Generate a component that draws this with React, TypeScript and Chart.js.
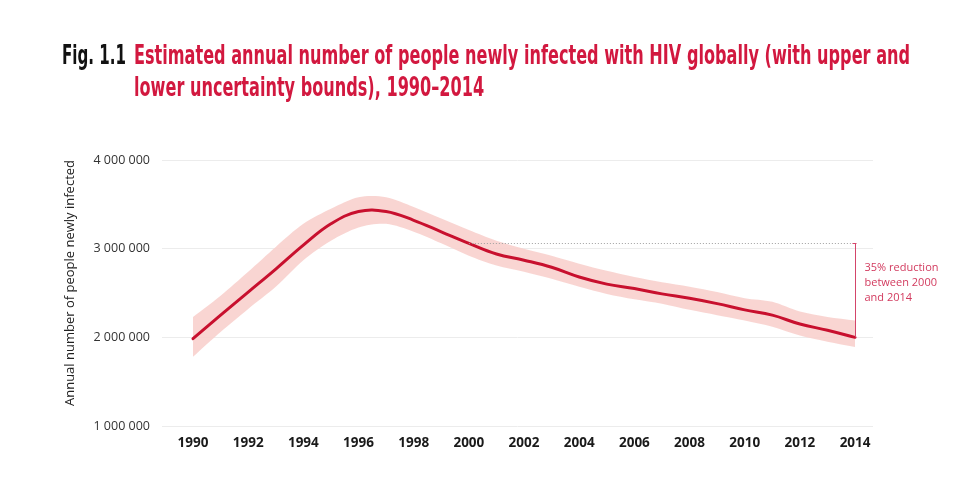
import React, { useEffect, useRef } from "react";
import { Chart, registerables } from "chart.js";

Chart.register(...registerables);

const years = [1990, 1991, 1992, 1993, 1994, 1995, 1996, 1997, 1998, 1999, 2000, 2001, 2002, 2003, 2004, 2005, 2006, 2007, 2008, 2009, 2010, 2011, 2012, 2013, 2014];
const estimate = [1985000, 2250000, 2510000, 2770000, 3040000, 3280000, 3420000, 3420000, 3320000, 3190000, 3060000, 2940000, 2870000, 2790000, 2680000, 2600000, 2550000, 2490000, 2440000, 2380000, 2310000, 2250000, 2150000, 2080000, 2000000];
const upperBound = [2230000, 2470000, 2740000, 3020000, 3280000, 3450000, 3580000, 3580000, 3470000, 3340000, 3210000, 3090000, 3000000, 2920000, 2830000, 2750000, 2680000, 2620000, 2570000, 2510000, 2440000, 2400000, 2290000, 2230000, 2190000];
const lowerBound = [1780000, 2060000, 2320000, 2570000, 2870000, 3090000, 3240000, 3280000, 3190000, 3060000, 2920000, 2810000, 2740000, 2660000, 2570000, 2490000, 2430000, 2380000, 2310000, 2250000, 2190000, 2120000, 2020000, 1950000, 1890000];
const xTickYears = [1990, 1992, 1994, 1996, 1998, 2000, 2002, 2004, 2006, 2008, 2010, 2012, 2014];
const yTicks = [1000000, 2000000, 3000000, 4000000];
const reductionFrom = 2000;
const reductionTo = 2014;
const reductionNote = ["35% reduction", "between 2000", "and 2014"];
const figLabel = "Fig. 1.1";
const titleLines = [
  "Estimated annual number of people newly infected with HIV globally (with upper and",
  "lower uncertainty bounds), 1990–2014",
];
const yAxisTitle = "Annual number of people newly infected";

const RED = "#c8102e";
const TITLE_RED = "#d2183f";
const BAND = "rgba(248, 208, 205, 0.9)";

const fmt = (v: number) => String(v).replace(/\B(?=(\d{3})+(?!\d))/g, " ");

const annotPlugin = {
  id: "annot",
  afterDatasetsDraw(chart: any) {
    const { ctx, scales } = chart;
    const x = scales.x;
    const y = scales.y;
    const vFrom = estimate[years.indexOf(reductionFrom)];
    const vTo = estimate[years.indexOf(reductionTo)];
    const y0 = Math.round(y.getPixelForValue(vFrom)) + 0.5;
    const y1 = y.getPixelForValue(vTo);
    const xa = x.getPixelForValue(reductionFrom);
    const xb = Math.round(x.getPixelForValue(reductionTo)) + 0.5;
    ctx.save();
    ctx.strokeStyle = "#a0a0a0";
    ctx.lineWidth = 1;
    ctx.setLineDash([1, 2]);
    ctx.beginPath();
    ctx.moveTo(xa, y0);
    ctx.lineTo(xb, y0);
    ctx.stroke();
    ctx.setLineDash([]);
    ctx.strokeStyle = "#d4456a";
    ctx.beginPath();
    ctx.moveTo(xb, y0);
    ctx.lineTo(xb, y1);
    ctx.moveTo(xb - 3, y0);
    ctx.lineTo(xb + 1, y0);
    ctx.stroke();
    ctx.fillStyle = "#d23a5e";
    ctx.font = "11px 'Open Sans', sans-serif";
    ctx.textAlign = "left";
    ctx.textBaseline = "alphabetic";
    reductionNote.forEach((t, i) => {
      ctx.fillText(t, xb + 9, y0 + 27 + i * 15);
    });
    ctx.restore();
  },
  afterDraw(chart: any) {
    const { ctx } = chart;
    ctx.save();
    ctx.fillStyle = "#222";
    ctx.font = "13px 'Open Sans', sans-serif";
    ctx.textAlign = "center";
    ctx.textBaseline = "middle";
    ctx.translate(70, 283);
    ctx.rotate(-Math.PI / 2);
    ctx.fillText(yAxisTitle, 0, 0);
    ctx.restore();

    ctx.save();
    ctx.font = "bold 27px 'Liberation Sans Narrow', 'DejaVu Sans Condensed', 'Liberation Sans', sans-serif";
    ctx.textAlign = "left";
    ctx.textBaseline = "alphabetic";
    const w1 = ctx.measureText(titleLines[0]).width;
    const sx = 776 / w1;
    ctx.fillStyle = TITLE_RED;
    titleLines.forEach((t, i) => {
      ctx.save();
      ctx.translate(134, 64 + i * 32);
      ctx.scale(sx, 1);
      ctx.fillText(t, 0, 0);
      ctx.restore();
    });
    const wf = ctx.measureText(figLabel).width;
    ctx.fillStyle = "#111";
    ctx.translate(62, 64);
    ctx.scale(64 / wf, 1);
    ctx.fillText(figLabel, 0, 0);
    ctx.restore();
  },
};

export default function App() {
  const ref = useRef<HTMLCanvasElement | null>(null);
  useEffect(() => {
    if (!ref.current) return;
    const pts = (arr: number[]) => years.map((yr, i) => ({ x: yr, y: arr[i] }));
    const chart = new Chart(ref.current, {
      type: "line",
      data: {
        datasets: [
          {
            data: pts(upperBound),
            borderWidth: 0,
            borderColor: "rgba(0,0,0,0)",
            backgroundColor: BAND,
            pointRadius: 0,
            fill: "+1",
            tension: 0.3,
            order: 2,
          },
          {
            data: pts(lowerBound),
            borderWidth: 0,
            borderColor: "rgba(0,0,0,0)",
            backgroundColor: BAND,
            pointRadius: 0,
            fill: false,
            tension: 0.3,
            order: 2,
          },
          {
            data: pts(estimate),
            borderWidth: 3,
            borderColor: RED,
            pointRadius: 0,
            fill: false,
            tension: 0.4,
            borderCapStyle: "round",
            borderJoinStyle: "round",
            order: 0,
          },
        ],
      },
      options: {
        responsive: false,
        animation: false,
        layout: { padding: { left: 62, top: 160, right: 85, bottom: 25 } },
        plugins: {
          legend: { display: false },
          tooltip: { enabled: false },
          title: { display: false },
          filler: { drawTime: "beforeDatasetsDraw" },
        },
        scales: {
          x: {
            type: "linear",
            min: 1988.876,
            max: 2014.65,
            grid: { display: false, drawTicks: false },
            border: { display: false },
            afterBuildTicks: (scale: any) => {
              scale.ticks = xTickYears.map((v) => ({ value: v }));
            },
            afterFit: (scale: any) => {
              scale.height = 40;
            },
            ticks: {
              autoSkip: false,
              maxRotation: 0,
              padding: 9,
              color: "#1a1a1a",
              font: { family: "'Open Sans', sans-serif", size: 13.5, weight: "bold" },
              callback: (v: any) => String(v),
            },
          },
          y: {
            min: 1000000,
            max: 4000000,
            afterBuildTicks: (scale: any) => {
              scale.ticks = yTicks.map((v) => ({ value: v }));
            },
            afterFit: (scale: any) => {
              scale.width = 100;
            },
            grid: { color: "#ececec", lineWidth: 1, drawTicks: false },
            border: { display: false },
            ticks: {
              padding: 12,
              color: "#333",
              font: { family: "'Open Sans', sans-serif", size: 12.5 },
              callback: (v: any) => fmt(Number(v)),
            },
          },
        },
      },
      plugins: [annotPlugin],
    } as any);
    return () => chart.destroy();
  }, []);
  return (
    <div style={{ position: "fixed", left: 0, top: 0, width: 958, height: 491, background: "#fff" }}>
      <canvas ref={ref} width={958} height={491} style={{ display: "block" }} />
    </div>
  );
}
